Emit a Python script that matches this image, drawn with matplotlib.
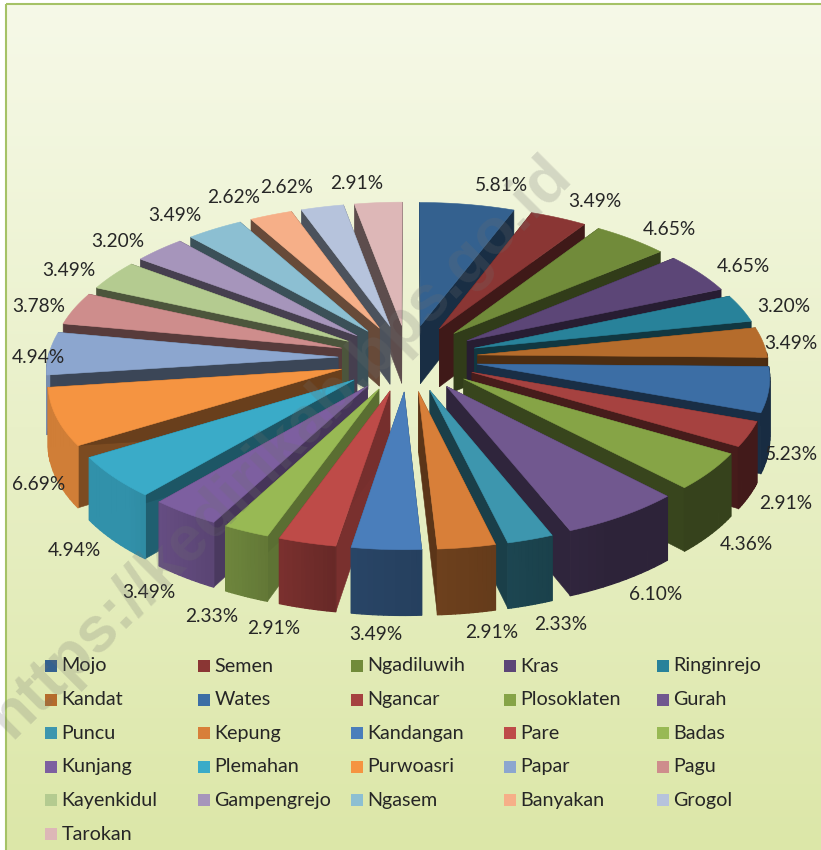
import numpy as np
import matplotlib
matplotlib.use("Agg")
import matplotlib.pyplot as plt
from matplotlib.colors import to_rgb
from matplotlib.patches import Polygon, Rectangle

names = ["Mojo", "Semen", "Ngadiluwih", "Kras", "Ringinrejo", "Kandat", "Wates",
         "Ngancar", "Plosoklaten", "Gurah", "Puncu", "Kepung", "Kandangan", "Pare",
         "Badas", "Kunjang", "Plemahan", "Purwoasri", "Papar", "Pagu", "Kayenkidul",
         "Gampengrejo", "Ngasem", "Banyakan", "Grogol", "Tarokan"]
values = [5.81, 3.49, 4.65, 4.65, 3.20, 3.49, 5.23, 2.91, 4.36, 6.10, 2.33, 2.91, 3.49,
          2.91, 2.33, 3.49, 4.94, 6.69, 4.94, 3.78, 3.49, 3.20, 3.49, 2.62, 2.62, 2.91]
colors = ["#34618F", "#8A3634", "#718B3A", "#5C4677", "#28829A", "#B56C2C", "#3C6EA5",
          "#A64240", "#86A446", "#71588F", "#3D96AE", "#D87F39", "#4A7EBB", "#BE4B48",
          "#98B954", "#7D5FA0", "#3AABC8", "#F59441", "#8CA6CF", "#CE8D8C", "#B4CB90",
          "#A695BB", "#8CBFD2", "#F6AF88", "#B6C3DC", "#DDB7B7"]
# label centres in image pixels
label_pos = [(501, 185), (595, 201), (669, 229), (743, 267), (784, 307), (791, 343),
             (791, 454), (786, 503), (746, 544), (656, 595), (561, 624), (492, 632),
             (376, 634), (274, 628), (212, 617), (149, 593), (74, 551), (39, 484),
             (38, 357), (39, 307), (69, 271), (118, 241), (175, 215), (234, 197),
             (287, 187), (357, 183)]

W, H = 821, 850
CX, CY = 408, 358
RADIUS = 290
EXPLODE = 70
DEPTH = 59
SQUASH = 172 / 360
PERSP = 0.103 / 360


def project(u, v, drop=0.0):
    s = 1 / (1 - PERSP * v)
    return CX + s * u, CY + s * (v * SQUASH + drop)


def shade(c, f):
    return tuple(np.array(to_rgb(c)) * f)


def rim_shade(theta):
    return np.interp(theta, [0, 150, 175, 190, 205, 225, 360],
                     [0.4, 0.4, 0.5, 0.55, 0.7, 0.85, 0.85])


def side_shade(theta):
    return np.interp(theta, [0, 60, 180, 190, 240, 265, 360],
                     [0.5, 0.42, 0.42, 0.65, 0.5, 0.42, 0.42])


def add_face(ax, pts, c, z, lw=0.4):
    ax.add_patch(Polygon(pts, closed=True, facecolor=c, edgecolor=c, linewidth=lw,
                         joinstyle="round", zorder=z))


fig = plt.figure(figsize=(W / 100, H / 100), dpi=100)
ax = fig.add_axes([0, 0, 1, 1])
plt.rcParams["font.family"] = ["Lato", "DejaVu Sans"]

# background
top = np.array(to_rgb("#F6F9E8"))
bot = np.array(to_rgb("#DCE7A8"))
grad = np.linspace(0, 1, 256)[:, None, None] * (bot - top) + top
ax.imshow(grad, extent=(6, W, H, 4), aspect="auto", zorder=0)
ax.add_patch(Rectangle((6, 4), W + 20, H + 20, fill=False, edgecolor="#A5C266",
                       linewidth=1.5, zorder=1))

# wedges, back ones first
edges = np.concatenate([[0], np.cumsum(values)]) / np.sum(values) * 360
mids = (edges[:-1] + edges[1:]) / 2
order = np.argsort(-np.cos(np.radians(mids)))

z = 2
for i in order:
    t0, t1 = edges[i], edges[i + 1]
    m = np.radians(mids[i])
    au, av = EXPLODE * np.sin(m), -EXPLODE * np.cos(m)
    th = np.radians(np.linspace(t0, t1, 14))
    us = au + RADIUS * np.sin(th)
    vs = av - RADIUS * np.cos(th)

    # the two cut faces
    for t, u, v in [(t0, us[0], vs[0]), (t1, us[-1], vs[-1])]:
        pts = [project(au, av), project(u, v), project(u, v, DEPTH), project(au, av, DEPTH)]
        add_face(ax, pts, shade(colors[i], side_shade(t)), z)
        z += 1
    # outer wall, only the part facing the viewer
    for j in range(len(th) - 1):
        if np.cos(th[j]) > 0.02:
            continue
        pts = [project(us[j], vs[j]), project(us[j + 1], vs[j + 1]),
               project(us[j + 1], vs[j + 1], DEPTH), project(us[j], vs[j], DEPTH)]
        add_face(ax, pts, shade(colors[i], rim_shade(np.degrees(th[j]))), z, lw=0.9)
    z += 1
    # top face
    pts = [project(au, av)] + [project(u, v) for u, v in zip(us, vs)]
    add_face(ax, pts, colors[i], z)
    z += 1

# percent labels
for val, (x, y) in zip(values, label_pos):
    ax.text(x, y, "%.2f%%" % val, ha="center", va="center", fontsize=13.8,
            color="#262626", zorder=200)

# legend, filled row by row
for i, name in enumerate(names):
    lx = 45 + 153 * (i % 5)
    ly = 666 + 33.6 * (i // 5)
    ax.add_patch(Rectangle((lx, ly - 6), 12, 12, facecolor=colors[i], edgecolor="none",
                           zorder=200))
    ax.text(lx + 16.5, ly, name, ha="left", va="center", fontsize=14.2, color="#262626",
            zorder=200)

# watermark
ax.text(280, 447, "https://kedirikab.bps.go.id", rotation=45, rotation_mode="anchor",
        ha="center", va="center", fontsize=46, fontweight="bold",
        family="Liberation Sans", color="#6E6E6E", alpha=0.22, zorder=300)

ax.set_xlim(0, W)
ax.set_ylim(H, 0)
ax.axis("off")
fig.savefig("out.png", dpi=100, facecolor="white")
